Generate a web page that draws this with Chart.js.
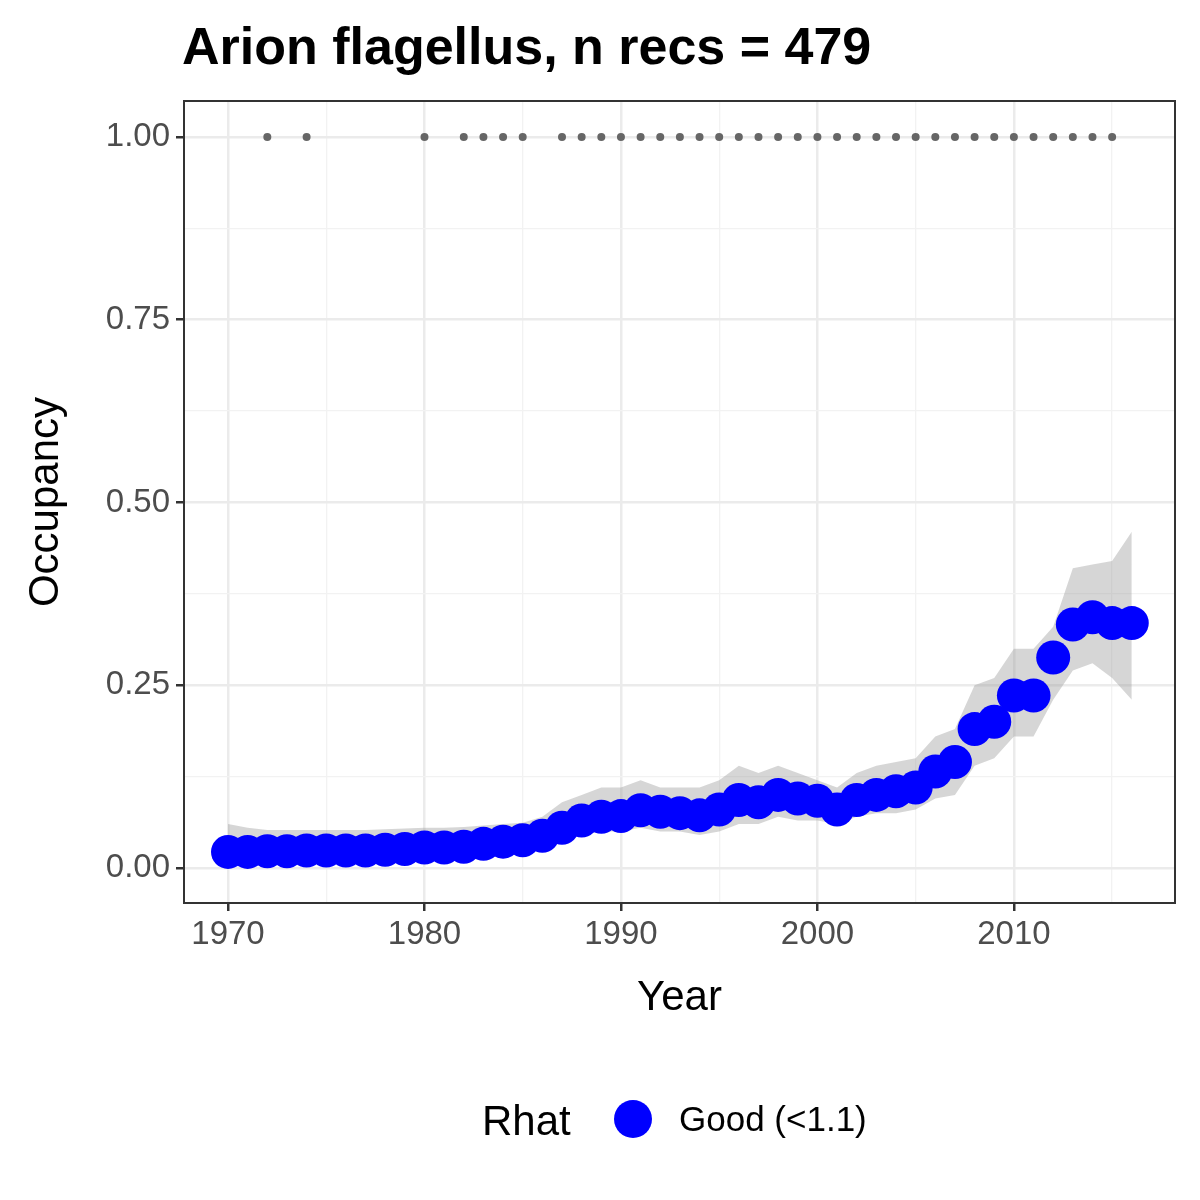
<!DOCTYPE html>
<html><head><meta charset="utf-8">
<script src="https://cdn.jsdelivr.net/npm/chart.js@4/dist/chart.umd.min.js"></script>
<style>html,body{margin:0;padding:0;background:#fff}#w{width:1200px;height:1200px}</style>
</head><body><div id="w"><canvas id="c"></canvas></div>
<script>
const years = [1970,1971,1972,1973,1974,1975,1976,1977,1978,1979,1980,1981,1982,1983,1984,1985,1986,1987,1988,1989,1990,1991,1992,1993,1994,1995,1996,1997,1998,1999,2000,2001,2002,2003,2004,2005,2006,2007,2008,2009,2010,2011,2012,2013,2014,2015,2016];
const occupancy = [0.022,0.022,0.023,0.023,0.024,0.024,0.024,0.024,0.025,0.026,0.028,0.028,0.029,0.033,0.036,0.038,0.044,0.055,0.065,0.070,0.071,0.079,0.077,0.075,0.072,0.080,0.093,0.090,0.100,0.095,0.092,0.080,0.093,0.100,0.105,0.110,0.132,0.145,0.190,0.200,0.236,0.236,0.288,0.333,0.343,0.335,0.335];
const upper = [0.060,0.055,0.052,0.052,0.052,0.052,0.052,0.052,0.053,0.054,0.055,0.055,0.056,0.058,0.060,0.062,0.070,0.090,0.100,0.110,0.110,0.120,0.110,0.110,0.110,0.120,0.140,0.130,0.140,0.130,0.120,0.110,0.130,0.140,0.145,0.150,0.180,0.190,0.250,0.260,0.300,0.300,0.330,0.410,0.415,0.420,0.460];
const lower = [0.003,0.005,0.006,0.006,0.007,0.007,0.007,0.007,0.008,0.009,0.010,0.011,0.012,0.014,0.017,0.020,0.030,0.040,0.045,0.050,0.050,0.055,0.050,0.050,0.045,0.050,0.060,0.060,0.070,0.065,0.065,0.060,0.070,0.075,0.075,0.080,0.095,0.100,0.140,0.150,0.180,0.180,0.230,0.270,0.280,0.260,0.230];
const recordYears = [1972,1974,1980,1982,1983,1984,1985,1987,1988,1989,1990,1991,1992,1993,1994,1995,1996,1997,1998,1999,2000,2001,2002,2003,2004,2005,2006,2007,2008,2009,2010,2011,2012,2013,2014,2015];
const titleText = 'Arion flagellus, n recs = 479';
const legendTitle = 'Rhat';
const legendLabel = 'Good (<1.1)';

const FONT = '"Liberation Sans", Arial, sans-serif';
const xy = (xs, ys) => xs.map((x,i)=>({x, y: ys[i]}));

const deco = {
  id:'deco',
  afterDraw(chart){
    const ctx = chart.ctx, a = chart.chartArea;
    ctx.save();
    ctx.strokeStyle = '#333333'; ctx.lineWidth = 2;
    ctx.strokeRect(a.left, a.top, a.right-a.left, a.bottom-a.top);
    ctx.fillStyle = '#000';
    ctx.font = 'bold 52px ' + FONT; ctx.textBaseline = 'alphabetic'; ctx.textAlign = 'left';
    ctx.fillText(titleText, 182, 64);
    ctx.font = '42px ' + FONT; ctx.textAlign = 'center';
    ctx.fillText('Year', (a.left+a.right)/2, 1010);
    ctx.save(); ctx.translate(58, (a.top+a.bottom)/2); ctx.rotate(-Math.PI/2);
    ctx.fillText('Occupancy', 0, 0); ctx.restore();
    ctx.textAlign = 'left';
    ctx.font = '42px ' + FONT; ctx.fillText(legendTitle, 482, 1135);
    ctx.fillStyle = '#0000FF'; ctx.beginPath(); ctx.arc(633, 1119, 19, 0, Math.PI*2); ctx.fill();
    ctx.fillStyle = '#000'; ctx.font = '35px ' + FONT; ctx.fillText(legendLabel, 679, 1131);
    ctx.restore();
  }
};

new Chart(document.getElementById('c'), {
  type:'scatter',
  data:{ datasets:[
    {type:'line', data: xy(years, upper), borderWidth:0, pointRadius:0, fill:'+1', backgroundColor:'rgba(153,153,153,0.4)', order:3},
    {type:'line', data: xy(years, lower), borderWidth:0, pointRadius:0, fill:false, order:3},
    {data: xy(years, occupancy), pointRadius:17, backgroundColor:'#0000FF', borderWidth:0, order:2},
    {data: recordYears.map(x=>({x, y:1})), pointRadius:4, backgroundColor:'#666666', borderWidth:0, order:1}
  ]},
  plugins:[deco],
  options:{
    responsive:true, maintainAspectRatio:false, animation:false,
    layout:{padding:{left:0, top:101, right:25, bottom:0}},
    plugins:{legend:{display:false}, tooltip:{enabled:false}},
    scales:{
      x:{type:'linear', min:1967.76, max:2018.2,
        afterBuildTicks(s){ const t=[]; for(let v=1970; v<=2015; v+=5) t.push({value:v}); s.ticks=t; },
        afterFit(s){ s.height = 297; },
        grid:{ color: c => (c.tick && c.tick.value%10===0) ? '#EBEBEB' : '#F2F2F2',
               lineWidth: c => (c.tick && c.tick.value%10===0) ? 2.5 : 1.3,
               tickColor: c => (c.tick && c.tick.value%10===0) ? '#333333' : 'rgba(0,0,0,0)',
               tickLength:8, drawOnChartArea:true },
        border:{display:false},
        ticks:{ autoSkip:false, maxRotation:0, padding:4, color:'#4D4D4D', font:{family:FONT, size:33},
          callback: v => v%10===0 ? String(v) : '' }
      },
      y:{type:'linear', min:-0.0479, max:1.0492,
        afterBuildTicks(s){ const t=[]; for(let v=0; v<=1.0001; v+=0.125) t.push({value:v}); s.ticks=t; },
        afterFit(s){ s.width = 184; },
        grid:{ color: c => (c.tick && Math.abs(c.tick.value*4-Math.round(c.tick.value*4))<1e-6) ? '#EBEBEB' : '#F2F2F2',
               lineWidth: c => (c.tick && Math.abs(c.tick.value*4-Math.round(c.tick.value*4))<1e-6) ? 2.5 : 1.3,
               tickColor: c => (c.tick && Math.abs(c.tick.value*4-Math.round(c.tick.value*4))<1e-6) ? '#333333' : 'rgba(0,0,0,0)',
               tickLength:8 },
        border:{display:false},
        ticks:{ autoSkip:false, padding:6, color:'#4D4D4D', font:{family:FONT, size:33},
          callback: v => Math.abs(v*4-Math.round(v*4))<1e-6 ? v.toFixed(2) : '' }
      }
    }
  }
});
</script></body></html>
